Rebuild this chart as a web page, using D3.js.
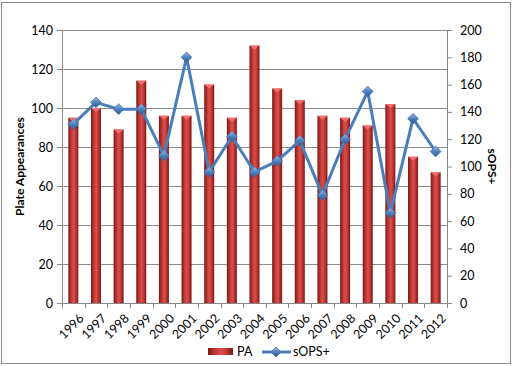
<!DOCTYPE html>
<html><head><meta charset="utf-8">
<script src="https://cdn.jsdelivr.net/npm/d3@7"></script>
<style>body{margin:0;background:#fff}svg{display:block}text{font-family:Lato,"Open Sans",sans-serif}</style>
</head><body><svg id="c" width="514" height="366"></svg>
<script>
const years = ["1996","1997","1998","1999","2000","2001","2002","2003","2004","2005","2006","2007","2008","2009","2010","2011","2012"];
const pa = [95,100,89,114,96,96,112,95,132,110,104,96,95,91,102,75,67];
const sops = [131,147,142,142,108,180,96,122,96,104,119,79,120,155,66,135,111];
const leftTicks = [0,20,40,60,80,100,120,140];
const rightTicks = [0,20,40,60,80,100,120,140,160,180,200];

const svg = d3.select("#c");
const L = 62, R = 447, T = 30, B = 303;
const defs = svg.append("defs");
const bg = defs.append("linearGradient").attr("id","bar").attr("x1","0").attr("x2","1");
[["0%","#7a1414"],["30%","#c23a36"],["55%","#d8504c"],["80%","#b52f2b"],["100%","#7a1414"]].forEach(s=>bg.append("stop").attr("offset",s[0]).attr("stop-color",s[1]));
const mg = defs.append("linearGradient").attr("id","mk").attr("x1","0").attr("y1","0").attr("x2","1").attr("y2","1");
[["0%","#9bbbe4"],["50%","#4f81bd"],["100%","#2c5a92"]].forEach(s=>mg.append("stop").attr("offset",s[0]).attr("stop-color",s[1]));

svg.append("rect").attr("x",1.5).attr("y",2.5).attr("width",509).attr("height",361).attr("fill","#fff").attr("stroke","#888").attr("stroke-width",1);

const x = d3.scaleBand().domain(years).range([L,R]);
const yL = d3.scaleLinear().domain([0,140]).range([B,T]);
const yR = d3.scaleLinear().domain([0,200]).range([B,T]);

// gridlines
svg.append("g").selectAll("line").data(leftTicks.filter(d=>d>0)).join("line")
  .attr("x1",L).attr("x2",R).attr("y1",d=>Math.round(yL(d))+0.5).attr("y2",d=>Math.round(yL(d))+0.5)
  .attr("stroke","#8c8c8c").attr("stroke-width",1);

// bars
const bw = 10;
const bars = svg.append("g").selectAll("g").data(years).join("g");
bars.append("rect").attr("x",(d,i)=>x(d)+x.bandwidth()/2-bw/2).attr("y",(d,i)=>yL(pa[i]))
  .attr("width",bw).attr("height",(d,i)=>B-yL(pa[i])).attr("fill","url(#bar)");
bars.append("path").attr("d",(d,i)=>{const cx=x(d)+x.bandwidth()/2, y=yL(pa[i]);return `M${cx-bw/2},${y}L${cx+bw/2},${y}L${cx},${y+4}Z`;})
  .attr("fill","#f07070");

// axes
const axL = svg.append("g").attr("transform",`translate(${L},0)`)
  .call(d3.axisLeft(yL).tickValues(leftTicks).tickSize(5).tickPadding(4));
const axR = svg.append("g").attr("transform",`translate(${R},0)`)
  .call(d3.axisRight(yR).tickValues(rightTicks).tickSize(5).tickPadding(8));
[axL,axR].forEach(a=>{a.select(".domain").attr("stroke","#868686");a.selectAll(".tick line").attr("stroke","#868686");
  a.selectAll("text").attr("font-size",12.5).attr("fill","#000");});

const axB = svg.append("g").attr("transform",`translate(0,${B})`);
axB.append("line").attr("x1",L).attr("x2",R).attr("y1",0.5).attr("y2",0.5).attr("stroke","#868686");
axB.selectAll("line.t").data(d3.range(years.length+1)).join("line").attr("class","t")
  .attr("x1",i=>Math.round(L+i*x.step())+0.5).attr("x2",i=>Math.round(L+i*x.step())+0.5)
  .attr("y1",0).attr("y2",5).attr("stroke","#868686");
axB.selectAll("text").data(years).join("text")
  .attr("transform",d=>`translate(${x(d)+x.bandwidth()/2+5},${10}) rotate(-45)`)
  .attr("text-anchor","end").attr("dy","0.7em").attr("font-size",12.5).text(d=>d);

// line
const line = d3.line().x((d,i)=>x(years[i])+x.bandwidth()/2).y(d=>yR(d));
svg.append("path").datum(sops).attr("d",line).attr("fill","none").attr("stroke","#4a7ebb").attr("stroke-width",3).attr("stroke-linejoin","round");
const sym = d3.symbol().type(d3.symbolDiamond2).size(75);
svg.append("g").selectAll("path").data(sops).join("path")
  .attr("transform",(d,i)=>`translate(${x(years[i])+x.bandwidth()/2},${yR(d)}) rotate(45)`)
  .attr("d",d3.symbol().type(d3.symbolSquare).size(58)).attr("fill","url(#mk)").attr("stroke","#3f6ea6").attr("stroke-width",0.7);

// titles
svg.append("text").attr("transform",`translate(24,${(T+B)/2}) rotate(-90)`).attr("text-anchor","middle")
  .attr("font-size",12).attr("font-weight","bold").text("Plate Appearances");
svg.append("text").attr("transform",`translate(488,${(T+B)/2}) rotate(90)`).attr("text-anchor","middle")
  .attr("font-size",12).attr("font-weight","bold").text("sOPS+");

// legend
const lg = svg.append("g");
lg.append("rect").attr("x",208).attr("y",348).attr("width",25).attr("height",7).attr("fill","url(#bar)");
lg.append("text").attr("x",237).attr("y",356).attr("font-size",12.5).text("PA");
lg.append("line").attr("x1",262).attr("x2",291).attr("y1",352).attr("y2",352).attr("stroke","#4a7ebb").attr("stroke-width",3);
lg.append("path").attr("transform","translate(276,352) rotate(45)").attr("d",d3.symbol().type(d3.symbolSquare).size(50)).attr("fill","url(#mk)").attr("stroke","#3f6ea6").attr("stroke-width",0.7);
lg.append("text").attr("x",293).attr("y",356).attr("font-size",12.5).text("sOPS+");
</script></body></html>
